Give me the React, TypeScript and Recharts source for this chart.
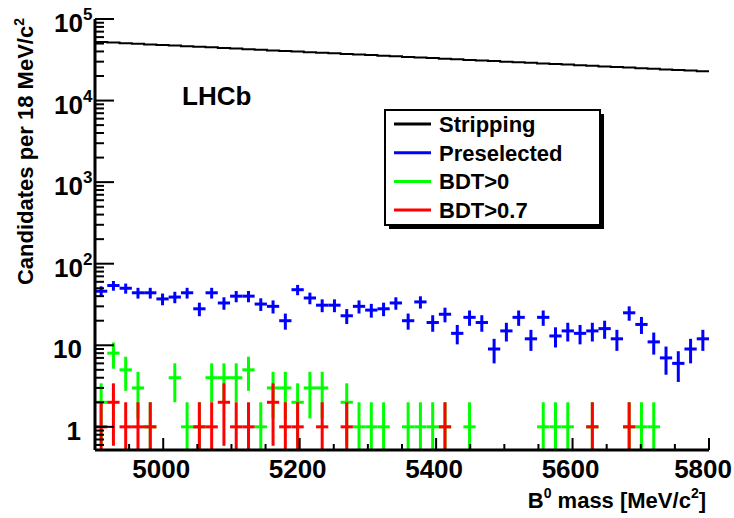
import React from 'react';
import { ComposedChart, Line, Scatter, ErrorBar, XAxis, YAxis } from 'recharts';

// 18 MeV bins from 4900 to 5800
const binCenters = [
  4909, 4927, 4945, 4963, 4981, 4999, 5017, 5035, 5053, 5071,
  5089, 5107, 5125, 5143, 5161, 5179, 5197, 5215, 5233, 5251,
  5269, 5287, 5305, 5323, 5341, 5359, 5377, 5395, 5413, 5431,
  5449, 5467, 5485, 5503, 5521, 5539, 5557, 5575, 5593, 5611,
  5629, 5647, 5665, 5683, 5701, 5719, 5737, 5755, 5773, 5791,
];

const stripping = [
  52200, 51400, 50500, 49700, 48800, 48000, 47200, 46400, 45600, 44900,
  44100, 43400, 42700, 41900, 41200, 40600, 39900, 39200, 38600, 37900,
  37300, 36700, 36100, 35500, 34900, 34300, 33700, 33200, 32600, 32100,
  31500, 31000, 30500, 30000, 29500, 29000, 28500, 28000, 27600, 27100,
  26700, 26200, 25800, 25400, 24900, 24500, 24100, 23700, 23300, 22900,
];

const preselected = [
  46, 54, 50, 44, 44, 37, 39, 44, 28, 44,
  33, 40, 40, 32, 30, 20, 48, 38, 31, 31,
  23, 30, 27, 28, 33, 20, 34, 19, 24, 14,
  22, 19, 9, 15, 22, 12, 22, 13, 15, 14,
  15, 16, 12, 25, 18, 11, 7, 6, 9, 12,
];

const bdt0 = [
  2, 8, 5, 3, 1, 0, 4, 1, 1, 4,
  4, 4, 5, 1, 3, 3, 2, 3, 3, 0,
  2, 1, 1, 1, 0, 1, 1, 1, 1, 0,
  1, 0, 0, 0, 0, 0, 1, 1, 1, 0,
  1, 0, 0, 1, 1, 1, 0, 0, 0, 0,
];

const bdt07 = [
  1, 2, 1, 1, 1, 0, 0, 0, 1, 1,
  2, 1, 1, 0, 2, 1, 1, 0, 1, 0,
  1, 0, 0, 0, 0, 0, 0, 0, 1, 0,
  0, 0, 0, 0, 0, 0, 0, 0, 0, 0,
  1, 0, 0, 1, 0, 0, 0, 0, 0, 0,
];

const xLabels = [5000, 5200, 5400, 5600, 5800];
const yDecades = [1, 10, 100, 1000, 10000, 100000];
const yDecadeLabels = ['1', '10', '10^2', '10^3', '10^4', '10^5'];

const X_MIN = 4900;
const X_MAX = 5800;
const HALF_BIN = 9;
const Y_MIN = 0.52;
const Y_MAX = 100000;
const FONT = '"Liberation Sans", Arial, Helvetica, sans-serif';

const xTicks = Array.from({ length: 19 }, (_, i) => X_MIN + i * 50);
const yTicks: number[] = [0.6, 0.7, 0.8, 0.9];
yDecades.forEach((d) => {
  yTicks.push(d);
  if (d < Y_MAX) for (let m = 2; m <= 9; m++) yTicks.push(d * m);
});

const toPoints = (vals: number[]) =>
  binCenters
    .map((x, i) => {
      const v = vals[i];
      const err = Math.sqrt(v);
      return { x, y: v, ex: HALF_BIN, ey: [v - Math.max(v - err, Y_MIN), err] };
    })
    .filter((p) => p.y > 0);

const strippingLine = binCenters.flatMap((x, i) => [
  { x: x - HALF_BIN, y: stripping[i] },
  { x: x + HALF_BIN, y: stripping[i] },
]);

const preselectedPts = toPoints(preselected);
const bdt0Pts = toPoints(bdt0);
const bdt07Pts = toPoints(bdt07);

const NoMark = () => <g />;

const BottomTick = (props: any) => {
  const { x, y, payload } = props;
  const v = payload.value;
  const major = v % 200 === 0;
  // last label sits against the page edge, like in the original
  const atEdge = v === X_MAX;
  return (
    <g>
      <line x1={x} x2={x} y1={y} y2={y - (major ? 12 : 6)} stroke="#000" strokeWidth={2} />
      {xLabels.includes(v) && (
        <text
          x={atEdge ? 732 : x - 2}
          y={y + 28}
          textAnchor={atEdge ? 'end' : 'middle'}
          fontSize={26}
          fontWeight="bold"
          fontFamily={FONT}
          fill="#000"
        >
          {v}
        </text>
      )}
    </g>
  );
};

const TopTick = (props: any) => {
  const { x, y, payload } = props;
  const major = payload.value % 200 === 0;
  return <line x1={x} x2={x} y1={y} y2={y + (major ? 11 : 5)} stroke="#000" strokeWidth={2} />;
};

const LeftTick = (props: any) => {
  const { x, y, payload } = props;
  const v = payload.value;
  const idx = yDecades.findIndex((d) => Math.abs(d - v) < 1e-6);
  const major = idx >= 0;
  let label: React.ReactNode = null;
  if (major) {
    const [base, exp] = yDecadeLabels[idx].split('^');
    label = (
      <g fontFamily={FONT} fontWeight="bold" fill="#000">
        <text x={x - (exp ? 12 : v === 1 ? 14 : 13)} y={y + 13} textAnchor="end" fontSize={26}>
          {base}
        </text>
        {exp && (
          <text x={x - 12} y={y + 1} textAnchor="start" fontSize={17}>
            {exp}
          </text>
        )}
      </g>
    );
  }
  return (
    <g>
      <line x1={x} x2={x + (major ? 19 : 9)} y1={y} y2={y} stroke="#000" strokeWidth={2} />
      {label}
    </g>
  );
};

const RightTick = (props: any) => {
  const { x, y, payload } = props;
  const major = yDecades.some((d) => Math.abs(d - payload.value) < 1e-6);
  return <line x1={x} x2={x - (major ? 17 : 8)} y1={y} y2={y} stroke="#000" strokeWidth={2} />;
};

const legendItems = [
  { name: 'Stripping', color: '#000000' },
  { name: 'Preselected', color: '#0000ff' },
  { name: 'BDT>0', color: '#00ff00' },
  { name: 'BDT>0.7', color: '#ff0000' },
];

const App: React.FC = () => {
  const axisLine = { stroke: '#000', strokeWidth: 3 };
  return (
    <div style={{ position: 'absolute', left: 0, top: 0, width: 734, height: 518, background: '#fff' }}>
      <ComposedChart width={734} height={518} margin={{ top: 19, right: 25, bottom: 0, left: 0 }}>
        <XAxis
          dataKey="x"
          type="number"
          domain={[X_MIN, X_MAX]}
          allowDataOverflow
          ticks={xTicks}
          interval={0}
          height={68}
          tickSize={0}
          tickMargin={0}
          tickLine={false}
          axisLine={axisLine}
          tick={BottomTick}
        />
        <XAxis
          xAxisId="top"
          orientation="top"
          dataKey="x"
          type="number"
          domain={[X_MIN, X_MAX]}
          allowDataOverflow
          ticks={xTicks}
          interval={0}
          height={0}
          tickSize={0}
          tickMargin={0}
          tickLine={false}
          axisLine={axisLine}
          tick={TopTick}
        />
        <YAxis
          dataKey="y"
          type="number"
          scale="log"
          domain={[Y_MIN, Y_MAX]}
          allowDataOverflow
          ticks={yTicks}
          interval={0}
          width={95}
          tickSize={0}
          tickMargin={0}
          tickLine={false}
          axisLine={axisLine}
          tick={LeftTick}
        />
        <YAxis
          yAxisId="right"
          orientation="right"
          dataKey="y"
          type="number"
          scale="log"
          domain={[Y_MIN, Y_MAX]}
          allowDataOverflow
          ticks={yTicks}
          interval={0}
          width={0}
          tickSize={0}
          tickMargin={0}
          tickLine={false}
          axisLine={axisLine}
          tick={RightTick}
        />
        <Line
          data={strippingLine}
          dataKey="y"
          type="linear"
          stroke="#000"
          strokeWidth={2}
          dot={false}
          isAnimationActive={false}
        />
        <Scatter data={preselectedPts} dataKey="y" shape={NoMark} isAnimationActive={false}>
          <ErrorBar dataKey="ey" direction="y" width={0} stroke="#0000ff" strokeWidth={3} isAnimationActive={false} />
          <ErrorBar dataKey="ex" direction="x" width={0} stroke="#0000ff" strokeWidth={3} isAnimationActive={false} />
        </Scatter>
        <Scatter data={bdt0Pts} dataKey="y" shape={NoMark} isAnimationActive={false}>
          <ErrorBar dataKey="ey" direction="y" width={0} stroke="#00ff00" strokeWidth={3} isAnimationActive={false} />
          <ErrorBar dataKey="ex" direction="x" width={0} stroke="#00ff00" strokeWidth={3} isAnimationActive={false} />
        </Scatter>
        <Scatter data={bdt07Pts} dataKey="y" shape={NoMark} isAnimationActive={false}>
          <ErrorBar dataKey="ey" direction="y" width={0} stroke="#ff0000" strokeWidth={3} isAnimationActive={false} />
          <ErrorBar dataKey="ex" direction="x" width={0} stroke="#ff0000" strokeWidth={3} isAnimationActive={false} />
        </Scatter>
      </ComposedChart>

      <svg
        width={734}
        height={518}
        style={{ position: 'absolute', left: 0, top: 0, pointerEvents: 'none' }}
        fontFamily={FONT}
        fontWeight="bold"
      >
        <text transform="translate(33,18) rotate(-90)" textAnchor="end" fontSize={22} fill="#000">
          Candidates per 18 MeV/c
          <tspan dy={-9} fontSize={14}>2</tspan>
        </text>
        <text x={706} y={508} textAnchor="end" fontSize={22} fill="#000">
          B<tspan dy={-10} fontSize={14}>0</tspan>
          <tspan dy={10}> mass [MeV/c</tspan>
          <tspan dy={-10} fontSize={14}>2</tspan>
          <tspan dy={10}>]</tspan>
        </text>
        <text x={182} y={105} fontSize={26} fill="#000">LHCb</text>

        <rect x={389} y={114} width={215} height={115} fill="#000" />
        <rect x={385} y={110} width={215} height={115} fill="#fff" stroke="#000" strokeWidth={2} />
        {legendItems.map((item, i) => {
          const cy = 124 + i * 28.7;
          return (
            <g key={item.name}>
              <line x1={394} x2={431} y1={cy} y2={cy} stroke={item.color} strokeWidth={3} />
              <text x={439} y={cy + 8} fontSize={22} fill="#000">{item.name}</text>
            </g>
          );
        })}
      </svg>
    </div>
  );
};

export default App;
